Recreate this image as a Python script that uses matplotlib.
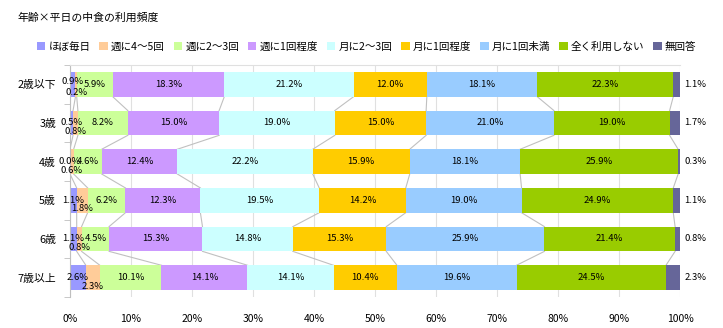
import numpy as np
import matplotlib
matplotlib.use('Agg')
import matplotlib.pyplot as plt

plt.rcParams['font.family'] = ['Noto Sans CJK JP', 'DejaVu Sans']

# データ
ages = ['2歳以下', '3歳', '4歳', '5歳', '6歳', '7歳以上']
categories = ['ほぼ毎日', '週に4～5回', '週に2～3回', '週に1回程度', '月に2～3回',
              '月に1回程度', '月に1回未満', '全く利用しない', '無回答']
values = [
    [0.9, 0.2, 5.9, 18.3, 21.2, 12.0, 18.1, 22.3, 1.1],
    [0.5, 0.8, 8.2, 15.0, 19.0, 15.0, 21.0, 19.0, 1.7],
    [0.0, 0.6, 4.6, 12.4, 22.2, 15.9, 18.1, 25.9, 0.3],
    [1.1, 1.8, 6.2, 12.3, 19.5, 14.2, 19.0, 24.9, 1.1],
    [1.1, 0.8, 4.5, 15.3, 14.8, 15.3, 25.9, 21.4, 0.8],
    [2.6, 2.3, 10.1, 14.1, 14.1, 10.4, 19.6, 24.5, 2.3],
]
colors = ['#9999FF', '#FFCC99', '#CCFF99', '#CC99FF', '#CCFFFF',
          '#FFCC00', '#99CCFF', '#99CC00', '#666699']

data = np.array(values)
# 合計で100%に正規化（表示用）
norm = data / data.sum(axis=1, keepdims=True) * 100
cum = np.cumsum(norm, axis=1)
starts = cum - norm

fig = plt.figure(figsize=(7.23, 3.28), dpi=100)
ax = fig.add_axes([0.0968, 0.0945, 0.8437, 0.7075])

y = np.arange(len(ages))
h = 0.64

for k, cat in enumerate(categories):
    ax.barh(y, norm[:, k], left=starts[:, k], height=h, color=colors[k],
            edgecolor='none', label=cat, zorder=2)

# 区分線
for i in range(len(ages) - 1):
    for k in range(len(categories) - 1):
        ax.plot([cum[i, k], cum[i + 1, k]], [y[i] + h / 2, y[i + 1] - h / 2],
                color='#C0C0C0', lw=0.8, zorder=1)

# ラベル
fs = 6.8
for i in range(len(ages)):
    for k in range(len(categories)):
        v = data[i, k]
        cx = starts[i, k] + norm[i, k] / 2
        txt = f'{v:.1f}%'
        if k == 0:
            ax.text(cx, y[i] - (0.08 if i == 0 else 0), txt, ha='center', va='center', fontsize=fs, zorder=3)
        elif k == 1:
            ax.text(cx, y[i] + 0.22, txt, ha='center', va='center', fontsize=fs, zorder=3)
        elif k == len(categories) - 1:
            ax.text(100.7, y[i], txt, ha='left', va='center', fontsize=fs, zorder=3)
        else:
            ax.text(cx, y[i], txt, ha='center', va='center', fontsize=fs, zorder=3)

ax.set_xlim(0, 100)
ax.set_ylim(len(ages) - 0.5, -0.5)
ax.set_xticks(np.arange(0, 101, 10))
ax.set_xticklabels([f'{t}%' for t in range(0, 101, 10)], fontsize=7.5)
ax.set_yticks(y)
ax.set_yticklabels(ages, fontsize=7.8)
ax.set_yticks(np.arange(-0.5, len(ages)), minor=True)
ax.tick_params(axis='y', which='major', length=0, pad=10)
ax.tick_params(axis='y', which='minor', length=4, color='#BFBFBF')
ax.tick_params(axis='x', length=0, pad=12)
ax.grid(axis='x', color='#E0E0E0', lw=0.8, zorder=0)
ax.set_axisbelow(True)
for s in ['right', 'bottom']:
    ax.spines[s].set_visible(False)
ax.spines['left'].set_color('#BFBFBF')
ax.spines['top'].set_color('#E0E0E0')

fig.text(0.024, 0.945, '年齢×平日の中食の利用頻度', fontsize=7.8, va='center')

handles, labels = ax.get_legend_handles_labels()
fig.legend(handles, labels, loc='center', bbox_to_anchor=(0.507, 0.857), ncol=9,
           frameon=False, fontsize=7.6, handlelength=0.8, handleheight=0.8,
           handletextpad=0.3, columnspacing=0.85)

fig.savefig('out.png', dpi=100)
